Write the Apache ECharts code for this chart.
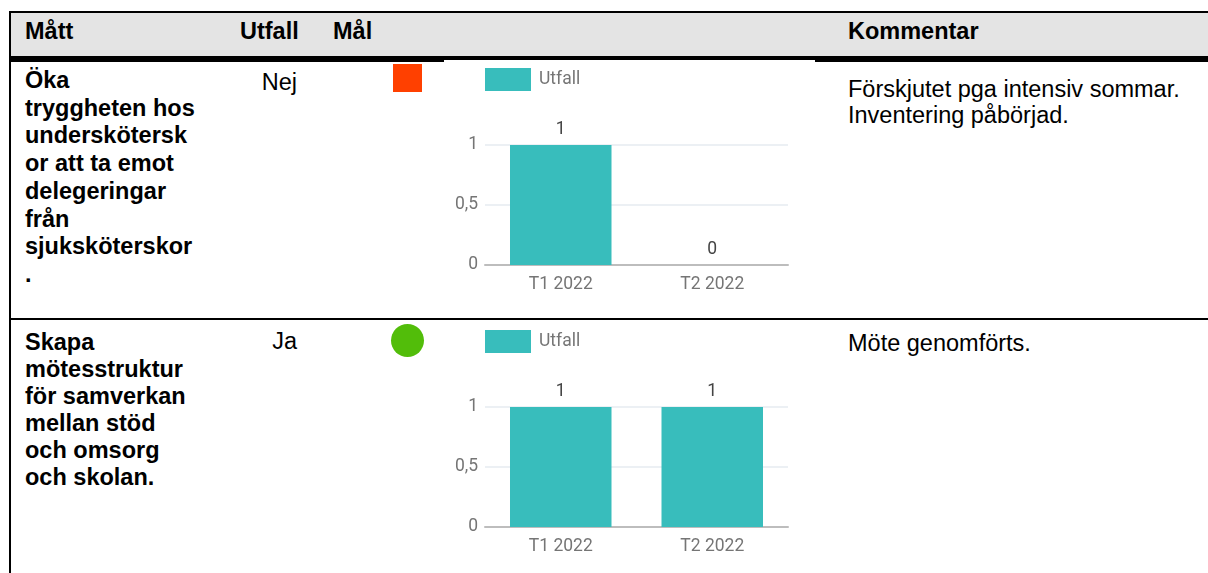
<!DOCTYPE html>
<html>
<head>
<meta charset="utf-8">
<script src="https://cdn.jsdelivr.net/npm/echarts@6/dist/echarts.min.js"></script>
<style>
  html, body { margin:0; padding:0; background:#fff; width:1208px; height:573px; overflow:hidden; position:relative; }
  .abs { position:absolute; }
  .txt { font-family:"Liberation Sans", Arial, sans-serif; font-size:23.5px; color:#000; white-space:nowrap; }
  .b { font-weight:bold; }
</style>
</head>
<body>
<script>
// ---- data ----
const categories = ['T1 2022', 'T2 2022'];
const seriesName = 'Utfall';
const utfallRow1 = [1, 0];
const utfallRow2 = [1, 1];
const yMin = 0, yMax = 1, yInterval = 0.5;

const headers = ['Mått', 'Utfall', 'Mål', 'Kommentar'];
const row1Title = ['Öka', 'tryggheten hos', 'underskötersk', 'or att ta emot', 'delegeringar', 'från', 'sjuksköterskor', '.'];
const row2Title = ['Skapa', 'mötesstruktur', 'för samverkan', 'mellan stöd', 'och omsorg', 'och skolan.'];
const row1Outcome = 'Nej';
const row2Outcome = 'Ja';
const row1Comment = ['Förskjutet pga intensiv sommar.', 'Inventering påbörjad.'];
const row2Comment = ['Möte genomförts.'];

function el(cls, style, html) {
  const d = document.createElement('div');
  d.className = cls;
  Object.assign(d.style, style);
  if (html !== undefined) d.innerHTML = html;
  document.body.appendChild(d);
  return d;
}

// ---- table frame ----
el('abs', {left:'11px', top:'13px', width:'1197px', height:'43px', background:'#e4e4e4'});
el('abs', {left:'9px', top:'11px', width:'1199px', height:'2px', background:'#000'});
el('abs', {left:'9px', top:'11px', width:'2px', height:'562px', background:'#000'});
el('abs', {left:'9px', top:'56px', width:'1199px', height:'6px', background:'#000', zIndex:1});

// header texts
el('abs txt b', {left:'25px', top:'18px', lineHeight:'27px'}, headers[0]);
el('abs txt b', {left:'240px', top:'18px', lineHeight:'27px'}, headers[1]);
el('abs txt b', {left:'333px', top:'18px', lineHeight:'27px'}, headers[2]);
el('abs txt b', {left:'848px', top:'18px', lineHeight:'27px'}, headers[3]);

// row 1
el('abs txt b', {left:'25px', top:'67px', lineHeight:'27.7px'}, row1Title.join('<br>'));
el('abs txt', {left:'197px', width:'100px', textAlign:'right', top:'69px', lineHeight:'27px'}, row1Outcome);
el('abs', {left:'393px', top:'64px', width:'29px', height:'28px', background:'#ff4000'});
el('abs txt', {left:'848px', top:'76px', lineHeight:'26px'}, row1Comment.join('<br>'));

// row 2
el('abs txt b', {left:'25px', top:'329.4px', lineHeight:'27px'}, row2Title.join('<br>'));
el('abs txt', {left:'197px', width:'100px', textAlign:'right', top:'328.4px', lineHeight:'27px'}, row2Outcome);
el('abs', {left:'391px', top:'324px', width:'33px', height:'33px', borderRadius:'50%', background:'#52bd0a'});
el('abs txt', {left:'848px', top:'330px', lineHeight:'26px'}, row2Comment.join('<br>'));

// row separator
el('abs', {left:'9px', top:'318px', width:'1199px', height:'2px', background:'#000', zIndex:3});

// ---- charts ----
const c1 = el('abs', {left:'444px', top:'60px', width:'371px', height:'258px', background:'#fff', zIndex:2});
const c2 = el('abs', {left:'444px', top:'322px', width:'371px', height:'251px', background:'#fff', zIndex:2});

function makeOption(values, gridBottom) {
  return {
    animation: false,
    textStyle: { fontFamily: 'Roboto' },
    legend: {
      left: 36, top: 3,
      itemWidth: 46, itemHeight: 23, itemGap: 10,
      icon: 'rect',
      textStyle: { color: '#757575', fontSize: 17.5, fontFamily: 'Roboto', padding:[0,0,0,3] },
      data: [seriesName]
    },
    grid: { left: 41, right: 27, top: 85, bottom: gridBottom, containLabel: false },
    xAxis: {
      type: 'category',
      data: categories,
      axisLine: { show: true, lineStyle: { color: '#bdbdbd', width: 2 } },
      axisTick: { show: false },
      axisLabel: { color: '#757575', fontSize: 17.5, fontFamily: 'Roboto', margin: 11 }
    },
    yAxis: {
      type: 'value',
      min: yMin, max: yMax, interval: yInterval,
      axisLine: { show: false },
      axisTick: { show: false },
      splitLine: { lineStyle: { color: '#e6ebf0', width: 1.5 } },
      axisLabel: {
        color: '#757575', fontSize: 17.5, fontFamily: 'Roboto', margin: 7,
        formatter: v => String(v).replace('.', ',')
      }
    },
    series: [{
      name: seriesName,
      type: 'bar',
      data: values,
      barWidth: '67%',
      itemStyle: { color: '#38bdbc' },
      label: {
        show: true, position: 'top', distance: 6,
        color: '#444', fontSize: 17.5, fontFamily: 'Roboto'
      }
    }]
  };
}

echarts.init(c1).setOption(makeOption(utfallRow1, 53));
echarts.init(c2).setOption(makeOption(utfallRow2, 46));
</script>
</body>
</html>
